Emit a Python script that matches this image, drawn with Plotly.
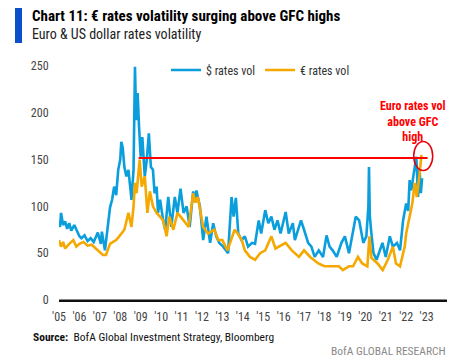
import plotly.graph_objects as go

# $ rates vol (blue)
usd_dates = [2005.00, 2005.05, 2005.10, 2005.20, 2005.30, 2005.40, 2005.50, 2005.60, 2005.75, 2005.90,
             2006.00, 2006.10, 2006.25, 2006.40, 2006.55, 2006.70, 2006.90, 2007.05, 2007.10, 2007.25,
             2007.40, 2007.50, 2007.60, 2007.70, 2007.80, 2007.90, 2008.00, 2008.05, 2008.12, 2008.20,
             2008.30, 2008.40, 2008.50, 2008.55, 2008.65, 2008.72, 2008.78, 2008.85, 2008.92, 2009.00,
             2009.08, 2009.20, 2009.30, 2009.40, 2009.50, 2009.60, 2009.68, 2009.78, 2009.85, 2009.95,
             2010.10, 2010.20, 2010.35, 2010.50, 2010.67, 2010.80, 2010.95, 2011.10, 2011.25, 2011.40,
             2011.57, 2011.65, 2011.73, 2011.90, 2012.06, 2012.22, 2012.40, 2012.55, 2012.70, 2012.85,
             2013.04, 2013.28, 2013.45, 2013.55, 2013.66, 2013.78, 2013.94, 2014.10, 2014.26, 2014.45,
             2014.60, 2014.78, 2014.90, 2015.10, 2015.25, 2015.40, 2015.55, 2015.70, 2015.85, 2016.10,
             2016.25, 2016.45, 2016.55, 2016.70, 2016.85, 2017.00, 2017.20, 2017.36, 2017.52, 2017.72,
             2017.93, 2018.10, 2018.25, 2018.40, 2018.60, 2018.83, 2019.00, 2019.20, 2019.40, 2019.53,
             2019.70, 2019.90, 2020.05, 2020.15, 2020.18, 2020.22, 2020.28, 2020.40, 2020.55, 2020.70,
             2020.84, 2021.00, 2021.20, 2021.35, 2021.55, 2021.70, 2021.85, 2022.00, 2022.10, 2022.17,
             2022.25, 2022.37, 2022.50, 2022.58, 2022.66, 2022.72, 2022.78]
usd_vol = [85, 78, 93, 80, 84, 76, 82, 74, 80, 72,
           68, 66, 69, 63, 66, 62, 72, 60, 73, 53,
           78, 99, 107, 121, 112, 139, 150, 169, 163, 142,
           132, 139, 118, 107, 139, 249, 192, 221, 185, 153,
           174, 132, 150, 178, 142, 139, 114, 121, 93, 107,
           85, 75, 110, 78, 110, 93, 119, 93, 100, 78,
           116, 105, 117, 100, 64, 89, 61, 82, 68, 61,
           57, 50, 110, 89, 109, 71, 64, 68, 57, 61,
           60, 85, 71, 96, 82, 89, 75, 85, 71, 94,
           71, 82, 64, 75, 85, 75, 61, 57, 46, 53,
           46, 69, 57, 53, 46, 61, 68, 50, 75, 89,
           85, 61, 68, 100, 142, 90, 75, 50, 43, 53,
           61, 46, 68, 57, 61, 53, 85, 103, 95, 128,
           117, 135, 153, 110, 139, 114, 130]

# € rates vol (orange)
eur_dates = [2005.00, 2005.10, 2005.20, 2005.30, 2005.50, 2005.70, 2005.85, 2006.00, 2006.20, 2006.40,
             2006.60, 2006.90, 2007.15, 2007.30, 2007.50, 2007.65, 2007.80, 2007.95, 2008.05, 2008.20,
             2008.40, 2008.55, 2008.65, 2008.72, 2008.80, 2008.95, 2009.05, 2009.20, 2009.33, 2009.45,
             2009.60, 2009.78, 2009.90, 2010.10, 2010.27, 2010.40, 2010.60, 2010.80, 2011.10, 2011.35,
             2011.57, 2011.68, 2011.80, 2012.06, 2012.30, 2012.60, 2012.80, 2013.00, 2013.25, 2013.60,
             2013.75, 2013.95, 2014.10, 2014.35, 2014.60, 2014.85, 2015.10, 2015.40, 2015.60, 2015.85,
             2016.10, 2016.40, 2016.75, 2017.00, 2017.30, 2017.70, 2018.00, 2018.35, 2018.70, 2018.90,
             2019.20, 2019.40, 2019.64, 2019.85, 2020.10, 2020.20, 2020.30, 2020.40, 2020.60, 2020.85,
             2021.10, 2021.35, 2021.50, 2021.70, 2021.93, 2022.00, 2022.17, 2022.30, 2022.42, 2022.52,
             2022.66, 2022.75]
eur_vol = [64, 57, 62, 55, 60, 64, 57, 60, 62, 58,
           59, 53, 48, 48, 60, 62, 64, 68, 71, 75,
           93, 78, 100, 125, 114, 150, 121, 132, 93, 116,
           100, 93, 90, 85, 68, 89, 75, 93, 85, 78,
           114, 104, 110, 78, 71, 75, 64, 64, 53, 75,
           71, 64, 53, 46, 43, 50, 53, 68, 55, 58,
           61, 53, 46, 53, 46, 39, 36, 36, 36, 32,
           36, 36, 46, 39, 36, 68, 45, 43, 39, 32,
           43, 57, 39, 36, 57, 71, 89, 103, 125, 110,
           135, 155]

year_ticks = list(range(2005, 2024))
year_labels = ["'" + str(y)[2:] for y in year_ticks]
y_ticks = [0, 50, 100, 150, 200, 250]

GFC_HIGH = 151.5

NARROW = "Liberation Sans Narrow, Arial Narrow, Roboto Condensed, sans-serif"

# The page body keeps its default 8px margin, so the figure is laid out 8px up/left
# of the target window coordinates and sized to fill the rest of the window.
OFF = 8

fig = go.Figure()
fig.add_trace(go.Scatter(x=usd_dates, y=usd_vol, mode="lines", name="$ rates vol",
                         line=dict(color="#0A9EDC", width=2.6)))
fig.add_trace(go.Scatter(x=eur_dates, y=eur_vol, mode="lines", name="€ rates vol",
                         line=dict(color="#F4A800", width=2.6)))


def px(xp):
    return (xp - 59) / 388


def py(yp):
    return (300 - yp) / 236


# x-axis baseline (drawn as a shape on top, slightly thicker)
fig.add_shape(type="line", xref="paper", yref="paper", x0=0, x1=1, y0=py(300.5), y1=py(300.5),
              line=dict(color="#111111", width=2), layer="above")

# GFC high line and circle
fig.add_shape(type="line", xref="x", yref="y", x0=2008.9, x1=2023.05, y0=GFC_HIGH, y1=GFC_HIGH,
              line=dict(color="#FF0000", width=2))
fig.add_shape(type="circle", xref="x", yref="y", x0=2022.37, x1=2023.3, y0=138.3, y1=169.3,
              line=dict(color="#E8000B", width=1.5))

# blue title bar
fig.add_shape(type="rect", xref="paper", yref="paper",
              x0=px(15), x1=px(22), y0=py(43), y1=py(4),
              fillcolor="#0A50C8", line=dict(width=0))

fig.add_annotation(xref="paper", yref="paper", x=px(30), y=py(16), xanchor="left", yanchor="middle",
                   text="<b>Chart 11: € rates volatility surging above GFC highs</b>", showarrow=False,
                   font=dict(family=NARROW, size=15, color="#000000"))
fig.add_annotation(xref="paper", yref="paper", x=px(30), y=py(34), xanchor="left", yanchor="middle",
                   text="Euro & US dollar rates volatility", showarrow=False,
                   font=dict(family=NARROW, size=14, color="#222222"))
fig.add_annotation(xref="paper", yref="paper", x=px(413), y=py(121), xanchor="center", yanchor="middle",
                   text="<b>Euro rates vol<br>above GFC<br>high</b>", showarrow=False,
                   font=dict(family=NARROW, size=12, color="#FF0000"))
fig.add_annotation(xref="paper", yref="paper", x=px(31), y=py(337), xanchor="left", yanchor="middle",
                   text="<b>Source:</b>  BofA Global Investment Strategy, Bloomberg", showarrow=False,
                   font=dict(family=NARROW, size=11.5, color="#111111"))
fig.add_annotation(xref="paper", yref="paper", x=px(448), y=py(351), xanchor="right", yanchor="middle",
                   text="BofA GLOBAL RESEARCH", showarrow=False,
                   font=dict(family=NARROW, size=11.5, color="#8A8A8A"))

fig.update_layout(
    width=475 - OFF, height=363 - OFF,
    margin=dict(l=59 - OFF, r=28, t=64 - OFF, b=63),
    paper_bgcolor="white", plot_bgcolor="white",
    showlegend=True,
    legend=dict(orientation="h", x=px(166), y=py(70), xanchor="left", yanchor="middle",
                font=dict(family=NARROW, size=12, color="#333333"),
                bgcolor="rgba(0,0,0,0)", itemwidth=30),
    xaxis=dict(range=[2005, 2024], tickvals=year_ticks, ticktext=year_labels,
               showgrid=False, zeroline=False, showline=True, linecolor="#111111", linewidth=2,
               ticks="outside", ticklen=5, tickcolor="rgba(0,0,0,0)",
               tickfont=dict(family=NARROW, size=12, color="#444444")),
    yaxis=dict(range=[0, 252], tickvals=y_ticks, showgrid=False, zeroline=False, showline=False,
               ticks="outside", ticklen=7, tickcolor="rgba(0,0,0,0)",
               tickfont=dict(family=NARROW, size=12, color="#444444")),
)

fig.write_html("out.html", config={"displayModeBar": False})
